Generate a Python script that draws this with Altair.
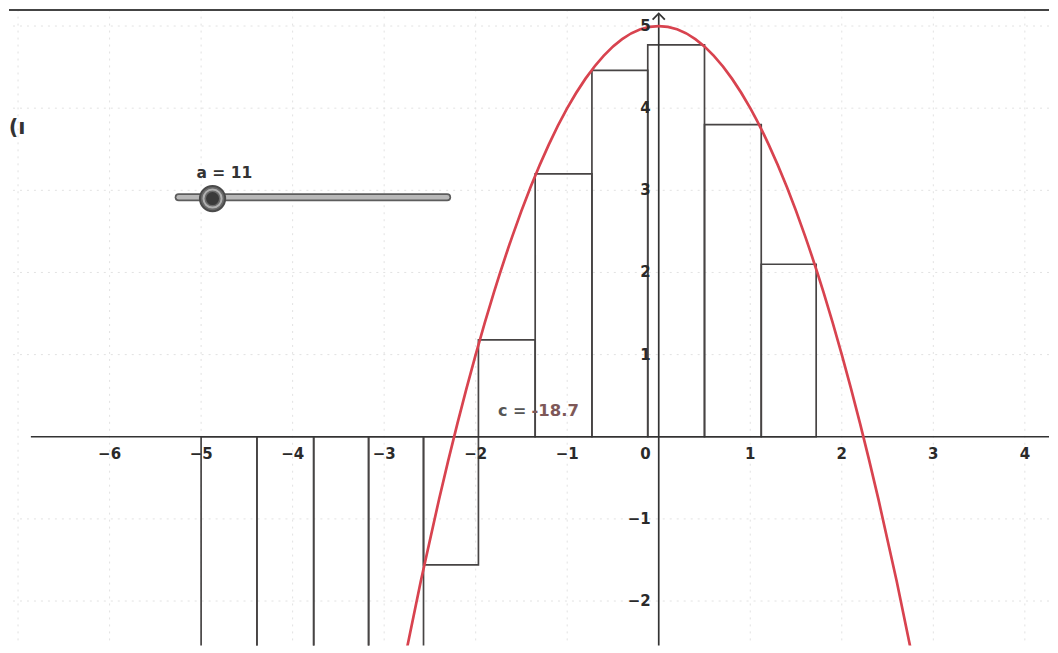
import altair as alt
import pandas as pd

# ---- data ----
# Rectangle edges of the lower sum (a = 11 rectangles)
rect_edges = [-5.0, -4.39, -3.77, -3.17, -2.57, -1.97, -1.35, -0.73, -0.12, 0.50, 1.12, 1.72]
rect_heights = [-20.0, -14.3, -9.3, -5.1, -1.56, 1.18, 3.2, 4.46, 4.77, 3.80, 2.10]

# red parabola, points
curve_x = [-2.8, -2.6, -2.4, -2.2, -2.0, -1.8, -1.6, -1.4, -1.2, -1.0, -0.8, -0.6, -0.4, -0.2, 0.0,
           0.2, 0.4, 0.6, 0.8, 1.0, 1.2, 1.4, 1.6, 1.8, 2.0, 2.2, 2.4, 2.6, 2.8]
curve_y = [-2.84, -1.76, -0.76, 0.16, 1.0, 1.76, 2.44, 3.04, 3.56, 4.0, 4.36, 4.64, 4.84, 4.96, 5.0,
           4.96, 4.84, 4.64, 4.36, 4.0, 3.56, 3.04, 2.44, 1.76, 1.0, 0.16, -0.76, -1.76, -2.84]

x_ticks = [-6, -5, -4, -3, -2, -1, 1, 2, 3, 4]
y_ticks = [-2, -1, 1, 2, 3, 4, 5]
grid_x = [-7, -6, -5, -4, -3, -2, -1, 1, 2, 3, 4]
grid_y = [-2, -1, 1, 2, 3, 4, 5]

slider_label = "a = 11"
sum_label = "c ="
sum_value = "-18.7"

# ---- scales ----
XMIN, XMAX = -7.099, 4.264
YMIN, YMAX = -2.54, 5.20
xs = alt.Scale(domain=[XMIN, XMAX], nice=False, zero=False)
ys = alt.Scale(domain=[YMIN, YMAX], nice=False, zero=False)


def X(f):
    return alt.X(f, type="quantitative", scale=xs, axis=None)


def Y(f):
    return alt.Y(f, type="quantitative", scale=ys, axis=None)


FONT = "DejaVu Sans"

# grid (very faint in the scan)
gx = alt.Chart(pd.DataFrame({"x": grid_x})).mark_rule(
    color="#e2e2e2", strokeWidth=1, strokeDash=[2, 5]).encode(x=X("x"))
gy = alt.Chart(pd.DataFrame({"y": grid_y})).mark_rule(
    color="#e2e2e2", strokeWidth=1, strokeDash=[2, 5]).encode(y=Y("y"))

# rectangles
rdf = pd.DataFrame({
    "x1": rect_edges[:-1],
    "x2": rect_edges[1:],
    "h": rect_heights,
    "b": [0.0] * len(rect_heights),
})
rects = alt.Chart(rdf).mark_rect(
    fill="white", fillOpacity=0, stroke="#474444", strokeWidth=1.7, clip=True
).encode(x=X("x1"), x2="x2", y=Y("h"), y2="b")

# axes
xaxis = alt.Chart(pd.DataFrame({"x": [-6.86], "x2": [XMAX], "y": [0.0]})).mark_rule(
    color="#333333", strokeWidth=1.7).encode(x=X("x"), x2="x2", y=Y("y"))
yaxis = alt.Chart(pd.DataFrame({"x": [0.0], "y": [YMIN], "y2": [5.14]})).mark_rule(
    color="#333333", strokeWidth=1.7).encode(x=X("x"), y=Y("y"), y2="y2")
arrow = alt.Chart(pd.DataFrame({"x": [0.0], "y": [5.12]})).mark_point(
    shape="M-1,0.55 L0,-0.45 L1,0.55", size=150, filled=False,
    stroke="#333333", strokeWidth=1.8, opacity=1).encode(x=X("x"), y=Y("y"))
topline = alt.Chart(pd.DataFrame({"x": [XMIN], "x2": [XMAX], "y": [5.195]})).mark_rule(
    color="#444444", strokeWidth=1.8).encode(x=X("x"), x2="x2", y=Y("y"))

# parabola
curve = alt.Chart(pd.DataFrame({"x": curve_x, "y": curve_y})).mark_line(
    color="#d8434f", strokeWidth=2.7, clip=True, interpolate="monotone"
).encode(x=X("x"), y=Y("y"), order="x:Q")

# tick labels
LBL = dict(font=FONT, fontSize=15, fontWeight="bold", color="#2a2a2a", baseline="middle")
xl = alt.Chart(pd.DataFrame({"x": x_ticks, "y": [0.0] * len(x_ticks),
                             "t": ["\u2212" + str(-v) if v < 0 else str(v) for v in x_ticks]})).mark_text(
    align="center", dy=17, **LBL).encode(x=X("x"), y=Y("y"), text="t:N")
zl = alt.Chart(pd.DataFrame({"x": [0.0], "y": [0.0], "t": ["0"]})).mark_text(
    align="right", dx=-8, dy=17, **LBL).encode(x=X("x"), y=Y("y"), text="t:N")
yl = alt.Chart(pd.DataFrame({"x": [0.0] * len(y_ticks), "y": y_ticks,
                             "t": ["\u2212" + str(-v) if v < 0 else str(v) for v in y_ticks]})).mark_text(
    align="right", dx=-8, **LBL).encode(x=X("x"), y=Y("y"), text="t:N")

# slider
sl_df = pd.DataFrame({"x": [-5.245], "x2": [-2.312], "y": [2.916]})
sl_outer = alt.Chart(sl_df).mark_rule(color="#5c5c5c", strokeWidth=8, strokeCap="round").encode(
    x=X("x"), x2="x2", y=Y("y"))
sl_inner = alt.Chart(sl_df).mark_rule(color="#b8b8b8", strokeWidth=4.5, strokeCap="round").encode(
    x=X("x"), x2="x2", y=Y("y"))
knob_df = pd.DataFrame({"x": [-4.875], "y": [2.90]})
knob = alt.Chart(knob_df).mark_point(
    shape="circle", size=640, filled=True, fill="#6a6a6a", stroke="#4a4a4a",
    strokeWidth=2, opacity=1).encode(x=X("x"), y=Y("y"))
knob_ring = alt.Chart(knob_df).mark_point(
    shape="circle", size=330, filled=False, stroke="#b0b0b0",
    strokeWidth=2, opacity=1).encode(x=X("x"), y=Y("y"))
knob_in = alt.Chart(knob_df).mark_point(
    shape="circle", size=170, filled=True, fill="#3a3a3a", opacity=1).encode(x=X("x"), y=Y("y"))
a_text = alt.Chart(pd.DataFrame({"x": [-5.05], "y": [3.21], "t": [slider_label]})).mark_text(
    font=FONT, fontSize=15.5, fontWeight="bold", color="#333333", align="left",
    baseline="middle").encode(x=X("x"), y=Y("y"), text="t:N")

# sum text
c_text = alt.Chart(pd.DataFrame({"x": [-1.756], "y": [0.31], "t": [sum_label]})).mark_text(
    font=FONT, fontSize=16, fontWeight="bold", color="#555555", align="left",
    baseline="middle").encode(x=X("x"), y=Y("y"), text="t:N")
v_text = alt.Chart(pd.DataFrame({"x": [-1.39], "y": [0.31], "t": [sum_value]})).mark_text(
    font=FONT, fontSize=16.5, fontWeight="bold", color="#7e5858", align="left",
    baseline="middle").encode(x=X("x"), y=Y("y"), text="t:N")

# partial icon on the left edge
icon = alt.Chart(pd.DataFrame({"x": [-7.01], "y": [3.76], "t": ["(ı"]})).mark_text(
    font=FONT, fontSize=21, fontWeight="bold", color="#333333", align="center",
    baseline="middle").encode(x=X("x"), y=Y("y"), text="t:N")

chart = alt.layer(
    gx, gy, rects, xaxis, yaxis, arrow, topline, curve, xl, zl, yl,
    sl_outer, sl_inner, knob, knob_ring, knob_in, a_text, c_text, v_text, icon
).properties(width=1042, height=637, padding=0, background="white").configure_view(stroke=None)

chart.save("out.html", embed_options={"renderer": "svg", "actions": False})
